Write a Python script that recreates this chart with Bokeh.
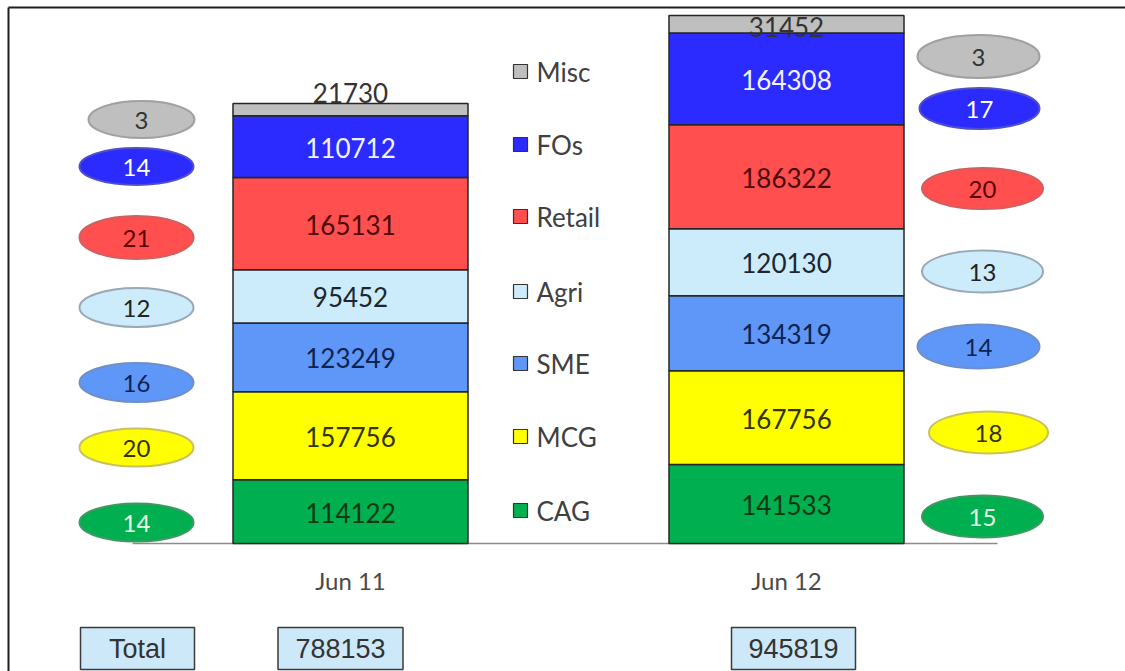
from bokeh.plotting import figure
from bokeh.models import Range1d, ColumnDataSource
from bokeh.core.properties import value
from bokeh.embed import file_html
from bokeh.resources import INLINE

# ---------------- data ----------------
periods = ["Jun 11", "Jun 12"]
segments = ["CAG", "MCG", "SME", "Agri", "Retail", "FOs", "Misc"]
jun11 = [114122, 157756, 123249, 95452, 165131, 110712, 21730]
jun12 = [141533, 167756, 134319, 120130, 186322, 164308, 31452]
share_jun11 = [14, 20, 16, 12, 21, 14, 3]
share_jun12 = [15, 18, 14, 13, 20, 17, 3]
totals = [788153, 945819]
total_label = "Total"

# ---------------- styles ----------------
seg_colors = ["#00b050", "#ffff00", "#5f97f8", "#ccecfc", "#ff4f4f", "#2b2bff", "#bfbfbf"]
seg_text = ["#0b3812", "#333300", "#0d2350", "#1c2633", "#4d0808", "#f2f2ff", "#333333"]
ell_line = ["#3c9a60", "#c9c060", "#6f8fc8", "#9aa8b4", "#d06060", "#5050c8", "#a0a0a0"]
ell_text = ["#e8ffe8", "#333300", "#0d2350", "#222222", "#5a0000", "#ffffff", "#333333"]
FONT = value("Lato")

W, H = 1125, 671
BASE_PX = 543          # baseline, px from top
UNITS_PER_PX = 1791.3
bar_x = [350, 786]
bar_w = 235

def py(v):  # px-from-top -> px-from-bottom (extra range)
    return H - v

p = figure(width=W, height=H, x_range=Range1d(0, W),
           y_range=Range1d(-(H - BASE_PX) * UNITS_PER_PX, BASE_PX * UNITS_PER_PX),
           x_axis_type=None, y_axis_type=None, toolbar_location=None,
           output_backend="svg", min_border=0, outline_line_color=None,
           background_fill_color="white", border_fill_color="white")
p.extra_y_ranges = {"px": Range1d(0, H)}

# frame
p.segment(x0=[8, 8], y0=[py(7), py(7)], x1=[8, W], y1=[0, py(7)],
          line_color="#1f1f1f", line_width=2, y_range_name="px")

# baseline
p.segment(x0=[132], y0=[0], x1=[997], y1=[0], line_color="#8c8c8c", line_width=1.5)

# stacked bars
data = {"x": bar_x}
for i, s in enumerate(segments):
    data[s] = [jun11[i], jun12[i]]
src = ColumnDataSource(data)
p.vbar_stack(segments, x="x", width=bar_w, color=seg_colors, line_color="#262626",
             line_width=1.5, source=src)

# value labels
lx, ly, lt, lc, loff = [], [], [], [], []
misc_offset = [-11, 12]
for b, vals in enumerate([jun11, jun12]):
    bottom = 0
    for i, v in enumerate(vals):
        if segments[i] == "Misc":
            ly.append(bottom + v)
            loff.append(misc_offset[b])
        else:
            ly.append(bottom + v / 2)
            loff.append(1)
        lx.append(bar_x[b]); lt.append(str(v)); lc.append(seg_text[i])
        bottom += v
p.text(x="x", y="y", text="t", text_color="c", y_offset="o",
       source=ColumnDataSource(dict(x=lx, y=ly, t=lt, c=lc, o=loff)),
       text_font=FONT, text_font_size="26px", text_align="center", text_baseline="middle")

# share ellipses
left_x = [136, 136, 136, 136, 136, 136, 141]
left_y = [522, 447, 382, 307, 237, 166, 119]
left_w = [114, 114, 114, 114, 114, 114, 106]
left_h = [38, 38, 39, 39, 43, 37, 37]
right_x = [982, 988, 978, 982, 982, 979, 978]
right_y = [516, 432, 346, 271, 188, 108, 56]
right_w = [121, 119, 122, 121, 121, 120, 122]
right_h = [42, 42, 44, 42, 41, 41, 43]
ex, ey, ew, eh, ef, el, et, etc = [], [], [], [], [], [], [], []
for xs, ys, ws, hs, shares in [(left_x, left_y, left_w, left_h, share_jun11),
                               (right_x, right_y, right_w, right_h, share_jun12)]:
    for i in range(len(segments)):
        ex.append(xs[i]); ey.append(py(ys[i])); ew.append(ws[i]); eh.append(hs[i])
        ef.append(seg_colors[i]); el.append(ell_line[i]); et.append(str(shares[i]))
        etc.append(ell_text[i])
esrc = ColumnDataSource(dict(x=ex, y=ey, w=ew, h=eh, f=ef, l=el, t=et, tc=etc))
p.ellipse(x="x", y="y", width="w", height="h", fill_color="f", line_color="l",
          line_width=2, source=esrc, y_range_name="px")
p.text(x="x", y="y", text="t", text_color="tc", source=esrc, y_range_name="px",
       y_offset=1, text_font=FONT, text_font_size="24px", text_align="center",
       text_baseline="middle")

# legend
leg_y = [510, 436, 363, 291, 216, 144, 71]
p.scatter(x=[520] * 7, y=[py(v) for v in leg_y], marker="square", size=14,
          fill_color=seg_colors, line_color="#333333", line_width=1.2, y_range_name="px")
p.text(x=[536] * 7, y=[py(v) for v in leg_y], text=segments, y_range_name="px",
       text_font=FONT, text_font_size="26px", text_color="#404040",
       text_align="left", text_baseline="middle")

# category labels
p.text(x=bar_x, y=[py(580)] * 2, text=periods, y_range_name="px",
       text_font=FONT, text_font_size="24px", text_color="#4a4a4a",
       text_align="center", text_baseline="middle")

# totals boxes
box_x = [137, 340, 793]
box_w = [114, 125, 124]
box_t = [total_label] + [str(t) for t in totals]
p.rect(x=box_x, y=[py(648)] * 3, width=box_w, height=42, fill_color="#cde9f9",
       line_color="#3a3a3a", line_width=1.5, y_range_name="px")
p.text(x=box_x, y=[py(648)] * 3, text=box_t, y_range_name="px",
       text_font=value("Liberation Sans"), text_font_size="27px", text_color="#333333",
       text_align="center", text_baseline="middle")

open("out.html", "w").write(file_html(p, INLINE))
